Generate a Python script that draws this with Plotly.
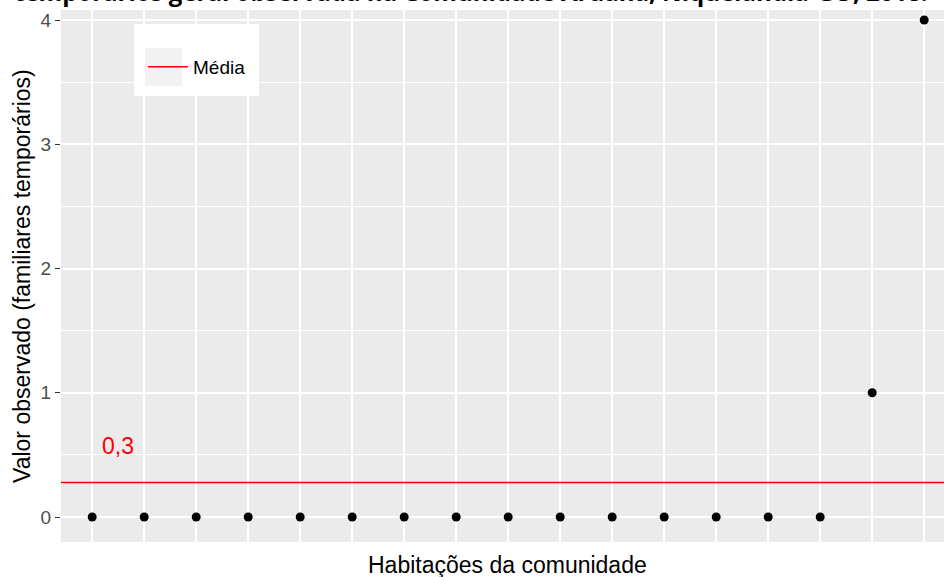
import plotly.graph_objects as go

# habitações e número de familiares temporários observados
# (a 18ª habitação fica fora do recorte da imagem; valor estimado 0 pela posição da média)
habitacoes = list(range(1, 19))
valores = [0, 0, 0, 0, 0, 0, 0, 0, 0, 0, 0, 0, 0, 0, 0, 1, 4, 0]
media = sum(valores) / len(valores)
rotulo_media = "0,3"

W, H = 944, 577
L, R, T, B = 61, 0, 10, 35
pw, ph = W - L - R, H - T - B


def px_x(p):
    return (p - L) / pw


def px_y(p):
    return (H - B - p) / ph


fig = go.Figure()

fig.add_trace(go.Scatter(
    x=[0, 19], y=[media, media], mode="lines", name="Média",
    line=dict(color="#FF0000", width=1.5), showlegend=True,
))
fig.add_trace(go.Scatter(
    x=habitacoes, y=valores, mode="markers", showlegend=False,
    marker=dict(color="black", size=9), cliponaxis=True,
))

fig.add_annotation(x=1.5, y=0.57, text=rotulo_media, showarrow=False,
                   font=dict(family="Liberation Sans", size=23, color="#FF0000"))

# título (cortado no topo, como na imagem original)
fig.add_annotation(
    xref="paper", yref="paper", x=px_x(471), y=px_y(10), xanchor="center", yanchor="bottom",
    text="<b>temporários geral observada na Comunidade Aruanã, Niquelândia-GO, 2018.</b>",
    showarrow=False, font=dict(family="Open Sans", size=24, color="black"),
)
fig.add_annotation(
    xref="paper", yref="paper", x=px_x(22), y=0.5, xanchor="center", yanchor="middle",
    text="Valor observado (familiares temporários)", textangle=-90, showarrow=False,
    font=dict(family="Liberation Sans", size=23, color="black"),
)
fig.add_annotation(
    xref="paper", yref="paper", x=px_x(507), y=px_y(565), xanchor="center", yanchor="middle",
    text="Habitações da comunidade", showarrow=False,
    font=dict(family="Liberation Sans", size=23, color="black"),
)

# fundo da legenda
fig.add_shape(type="rect", xref="paper", yref="paper", layer="above",
              x0=px_x(134), x1=px_x(259), y0=px_y(96), y1=px_y(24),
              fillcolor="white", line=dict(width=0))
fig.add_shape(type="rect", xref="paper", yref="paper", layer="above",
              x0=px_x(145), x1=px_x(182), y0=px_y(86), y1=px_y(48),
              fillcolor="#F2F2F2", line=dict(width=0))

fig.update_layout(
    width=W, height=H,
    margin=dict(l=L, r=R, t=T, b=B, pad=0),
    paper_bgcolor="white", plot_bgcolor="#EBEBEB",
    font=dict(family="Liberation Sans"),
    legend=dict(x=px_x(143), y=px_y(67), xanchor="left", yanchor="middle",
                bgcolor="rgba(0,0,0,0)", borderwidth=0, itemwidth=40,
                font=dict(family="Liberation Sans", size=19, color="black")),
)
fig.update_xaxes(
    range=[0.4, 0.4 + pw / 52.0], tickvals=habitacoes, showticklabels=False, ticks="",
    showgrid=True, gridcolor="white", gridwidth=2, zeroline=False, showline=False,
)
fig.update_yaxes(
    range=[-25 / 124.25, 4 + 10 / 124.25], tickvals=[0, 1, 2, 3, 4],
    ticks="outside", ticklen=5, tickwidth=1.2, tickcolor="#333333",
    tickfont=dict(family="Liberation Sans", size=19, color="#4D4D4D"),
    showgrid=True, gridcolor="white", gridwidth=2, zeroline=False, showline=False,
    minor=dict(dtick=0.5, tick0=0, showgrid=True, gridcolor="white", gridwidth=1),
)

fig.write_html("out.html", config={"displayModeBar": False},
               post_script="document.body.style.margin='0';")
